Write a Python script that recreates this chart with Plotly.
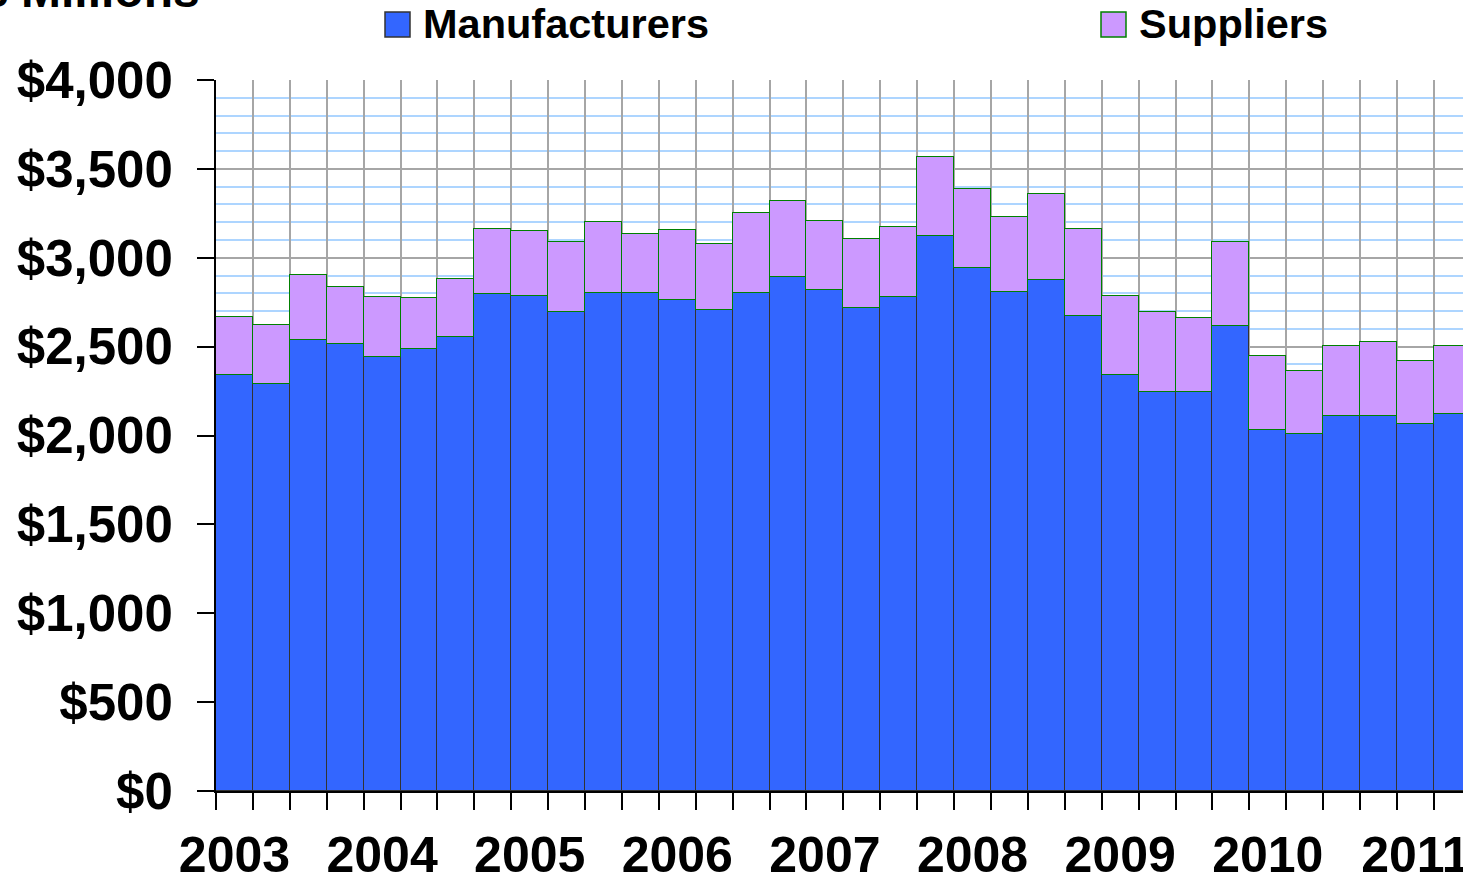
import plotly.graph_objects as go

quarters = ["2003 Q1", "2003 Q2", "2003 Q3", "2003 Q4",
            "2004 Q1", "2004 Q2", "2004 Q3", "2004 Q4",
            "2005 Q1", "2005 Q2", "2005 Q3", "2005 Q4",
            "2006 Q1", "2006 Q2", "2006 Q3", "2006 Q4",
            "2007 Q1", "2007 Q2", "2007 Q3", "2007 Q4",
            "2008 Q1", "2008 Q2", "2008 Q3", "2008 Q4",
            "2009 Q1", "2009 Q2", "2009 Q3", "2009 Q4",
            "2010 Q1", "2010 Q2", "2010 Q3", "2010 Q4",
            "2011 Q1", "2011 Q2"]
tick_labels = ["2003", "", "", "", "2004", "", "", "", "2005", "", "", "",
               "2006", "", "", "", "2007", "", "", "", "2008", "", "", "",
               "2009", "", "", "", "2010", "", "", "", "2011", ""]
manufacturers = [2340, 2290, 2535, 2513, 2442, 2487, 2552, 2794,
                 2787, 2693, 2802, 2802, 2764, 2708, 2804, 2892,
                 2820, 2717, 2781, 3124, 2944, 2806, 2875, 2671,
                 2340, 2245, 2245, 2616, 2033, 2008, 2112, 2112,
                 2066, 2121]
suppliers = [328, 332, 370, 322, 335, 285, 330, 370,
             362, 394, 401, 332, 394, 371, 448, 429,
             385, 387, 392, 441, 441, 421, 486, 493,
             447, 448, 418, 471, 416, 355, 393, 416,
             353, 384]
series_names = ["Manufacturers", "Suppliers"]
y_title = "$ Millions"

W, H = 1463, 879
ML, MR, MT, MB = 216, 0, 80, 88
PW, PH = W - ML - MR, H - MT - MB
FONT = "Liberation Sans, Arial, sans-serif"
BLUE = "#3366FF"
PURPLE = "#CC99FF"
GREEN = "#008000"


def px_x(px):
    return (px - ML) / PW


def px_y(py):
    return (H - MB - py) / PH


fig = go.Figure()
fig.add_trace(go.Bar(x=quarters, y=manufacturers, name=series_names[0],
                     marker=dict(color=BLUE, line=dict(color="#333333", width=1))))
fig.add_trace(go.Bar(x=quarters, y=suppliers, name=series_names[1],
                     marker=dict(color=PURPLE, line=dict(color=GREEN, width=1.5))))

fig.update_layout(
    width=W, height=H,
    margin=dict(l=ML, r=MR, t=MT, b=MB, pad=0, autoexpand=False),
    barmode="stack", bargap=0,
    plot_bgcolor="white", paper_bgcolor="white",
    showlegend=False,
    font=dict(family=FONT, color="black"),
)

fig.update_xaxes(
    type="category",
    range=[-0.5, 33.29],
    tickmode="array", tickvals=quarters, ticktext=tick_labels,
    tickson="boundaries", tickangle=0, automargin=False,
    ticks="outside", ticklen=17, tickwidth=1.5, tickcolor="black",
    showgrid=True, gridcolor="#A6A6A6", gridwidth=1.5,
    showline=True, linecolor="black", linewidth=2,
    tickfont=dict(family=FONT, size=50, weight="bold", color="black"),
    ticklabelstandoff=19,
    zeroline=False,
)
fig.update_yaxes(
    range=[0, 4000], dtick=500, tick0=0, automargin=False,
    tickprefix="$", tickformat=",d",
    ticks="outside", ticklen=17, tickwidth=2, tickcolor="black",
    showgrid=True, gridcolor="#A6A6A6", gridwidth=1.5,
    minor=dict(dtick=100, tick0=0, showgrid=True, gridcolor="#ADD5FF", gridwidth=1.8, ticks=""),
    showline=True, linecolor="black", linewidth=2,
    tickfont=dict(family=FONT, size=51, weight="bold", color="black"),
    ticklabelstandoff=14,
    zeroline=False,
)

# legend drawn as squares + labels
legend_items = [(385, BLUE, "#333333", series_names[0]),
                (1101, PURPLE, GREEN, series_names[1])]
for x0, fill, edge, label in legend_items:
    fig.add_shape(type="rect", xref="paper", yref="paper",
                  x0=px_x(x0), x1=px_x(x0 + 25), y0=px_y(37), y1=px_y(12),
                  fillcolor=fill, line=dict(color=edge, width=1.5))
    fig.add_annotation(xref="paper", yref="paper", x=px_x(x0 + 36), y=px_y(24),
                       xanchor="left", yanchor="middle", showarrow=False,
                       text=label, font=dict(family=FONT, size=41.5, weight="bold", color="black"))

fig.add_annotation(xref="paper", yref="paper", x=px_x(202), y=px_y(-10),
                   xanchor="right", yanchor="middle", showarrow=False,
                   text=y_title, font=dict(family=FONT, size=48, weight="bold", color="black"))

fig.write_html("out.html", config={"displayModeBar": False},
               post_script="document.body.style.margin='0';document.body.style.overflow='hidden';")
